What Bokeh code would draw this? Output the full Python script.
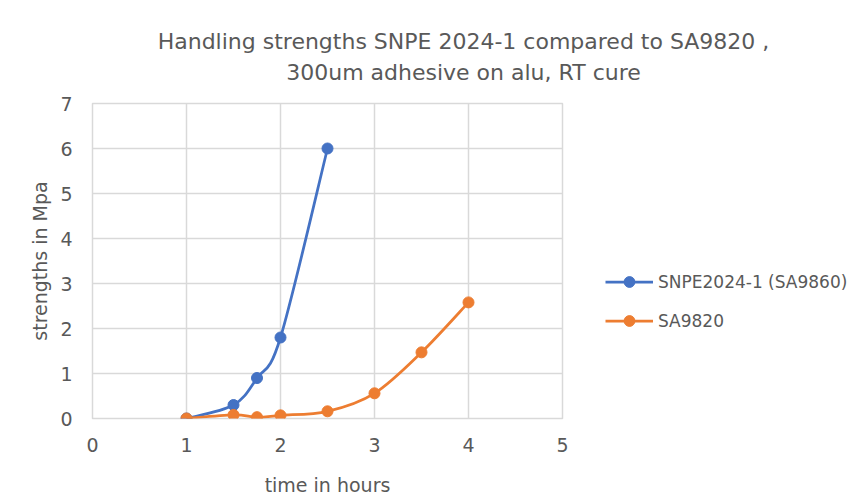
import numpy as np
from bokeh.plotting import figure
from bokeh.layouts import column, row
from bokeh.models import Range1d, Legend, LegendItem, Label, FixedTicker, ColumnDataSource
from bokeh.embed import file_html
from bokeh.resources import INLINE

# data
snpe_time = [1, 1.5, 1.75, 2, 2.5]
snpe_strength = [0.0, 0.3, 0.9, 1.8, 6.0]
sa_time = [1, 1.5, 1.75, 2, 2.5, 3, 3.5, 4]
sa_strength = [0.0, 0.08, 0.03, 0.07, 0.16, 0.56, 1.47, 2.58]
x_ticks = [0, 1, 2, 3, 4, 5]
y_ticks = [0, 1, 2, 3, 4, 5, 6, 7]
title_lines = ["Handling strengths SNPE 2024-1 compared to SA9820 ,",
               "300um adhesive on alu, RT cure"]
series_names = ["SNPE2024-1 (SA9860)", "SA9820"]

BLUE = "#4472C4"
ORANGE = "#ED7D31"
GRAY = "#595959"
GRID = "#d9d9d9"
FONT = "DejaVu Sans"


def smooth_segments(xs, ys):
    n = len(xs)
    x0, y0, x1, y1, cx0, cy0, cx1, cy1 = [], [], [], [], [], [], [], []
    for i in range(n - 1):
        im1 = max(i - 1, 0)
        ip2 = min(i + 2, n - 1)
        x0.append(xs[i]); y0.append(ys[i])
        x1.append(xs[i + 1]); y1.append(ys[i + 1])
        cx0.append(xs[i] + (xs[i + 1] - xs[im1]) / 6.0)
        cy0.append(ys[i] + (ys[i + 1] - ys[im1]) / 6.0)
        cx1.append(xs[i + 1] - (xs[ip2] - xs[i]) / 6.0)
        cy1.append(ys[i + 1] - (ys[ip2] - ys[i]) / 6.0)
    return ColumnDataSource(dict(x0=x0, y0=y0, x1=x1, y1=y1,
                                 cx0=cx0, cy0=cy0, cx1=cx1, cy1=cy1))


def blank_fig(w, h):
    f = figure(width=w, height=h, output_backend="svg", toolbar_location=None,
               x_axis_type=None, y_axis_type=None,
               x_range=Range1d(0, 1), y_range=Range1d(0, 1),
               min_border=0, min_border_left=0, min_border_right=0,
               min_border_top=0, min_border_bottom=0)
    f.outline_line_color = None
    f.xgrid.visible = False
    f.ygrid.visible = False
    f.border_fill_color = "white"
    f.background_fill_color = "white"
    return f


TOTAL_W = 860
TITLE_H = 90
MAIN_W, MAIN_H = 596, 408

# ---- title strip ----
tf = blank_fig(TOTAL_W, TITLE_H)
for t, ys in zip(title_lines, (49, 18)):
    tf.add_layout(Label(x=463, y=ys, x_units="screen", y_units="screen", text=t,
                        text_align="center", text_baseline="middle",
                        text_color=GRAY, text_font=FONT, text_font_size="22px"))

# ---- main chart ----
p = figure(width=MAIN_W, height=MAIN_H, output_backend="svg", toolbar_location=None,
           x_range=Range1d(0, 5), y_range=Range1d(0, 7),
           min_border_left=92, min_border_right=34,
           min_border_top=13, min_border_bottom=80)
p.outline_line_color = GRID
p.outline_line_width = 1.5
p.background_fill_color = "white"
p.border_fill_color = "white"

p.xgrid.ticker = FixedTicker(ticks=x_ticks)
p.ygrid.ticker = FixedTicker(ticks=y_ticks)
p.xgrid.grid_line_color = GRID
p.ygrid.grid_line_color = GRID
p.xgrid.grid_line_width = 1.5
p.ygrid.grid_line_width = 1.5

for ax in (p.xaxis[0], p.yaxis[0]):
    ax.axis_line_color = None
    ax.major_tick_line_color = None
    ax.minor_tick_line_color = None
    ax.major_label_text_color = GRAY
    ax.major_label_text_font = FONT
    ax.major_label_text_font_size = "19px"
    ax.axis_label_text_color = GRAY
    ax.axis_label_text_font = FONT
    ax.axis_label_text_font_size = "19px"
    ax.axis_label_text_font_style = "normal"
p.xaxis.ticker = FixedTicker(ticks=x_ticks)
p.yaxis.ticker = FixedTicker(ticks=y_ticks)
p.xaxis.axis_label = "time in hours"
p.yaxis.axis_label = "strengths in Mpa"
p.xaxis.major_label_standoff = 13
p.yaxis.major_label_standoff = 14
p.xaxis.axis_label_standoff = 19
p.yaxis.axis_label_standoff = 6

src_b = smooth_segments(snpe_time, snpe_strength)
src_o = smooth_segments(sa_time, sa_strength)
p.bezier(x0="x0", y0="y0", x1="x1", y1="y1", cx0="cx0", cy0="cy0",
         cx1="cx1", cy1="cy1", source=src_b, line_color=BLUE, line_width=2.75)
p.scatter(snpe_time, snpe_strength, size=11, color=BLUE)
p.bezier(x0="x0", y0="y0", x1="x1", y1="y1", cx0="cx0", cy0="cy0",
         cx1="cx1", cy1="cy1", source=src_o, line_color=ORANGE, line_width=2.75)
p.scatter(sa_time, sa_strength, size=11, color=ORANGE)

# ---- legend panel (proxy renderers hold no drawable point) ----
nan = np.array([np.nan])
lf = blank_fig(TOTAL_W - MAIN_W, MAIN_H)
lb = lf.line(nan, nan, line_color=BLUE, line_width=2.75)
mb = lf.scatter(nan, nan, size=11, color=BLUE)
lo = lf.line(nan, nan, line_color=ORANGE, line_width=2.75)
mo = lf.scatter(nan, nan, size=11, color=ORANGE)
legend = Legend(items=[LegendItem(label=series_names[0], renderers=[lb, mb]),
                       LegendItem(label=series_names[1], renderers=[lo, mo])],
                location=(9, 84), orientation="vertical",
                background_fill_alpha=0, border_line_color=None,
                padding=0, margin=0, spacing=12, glyph_width=48, glyph_height=27,
                label_standoff=5, label_text_color=GRAY,
                label_text_font=FONT, label_text_font_size="17px")
lf.add_layout(legend, "center")

layout = column(tf, row(p, lf))
open("out.html", "w").write(file_html(layout, INLINE))
